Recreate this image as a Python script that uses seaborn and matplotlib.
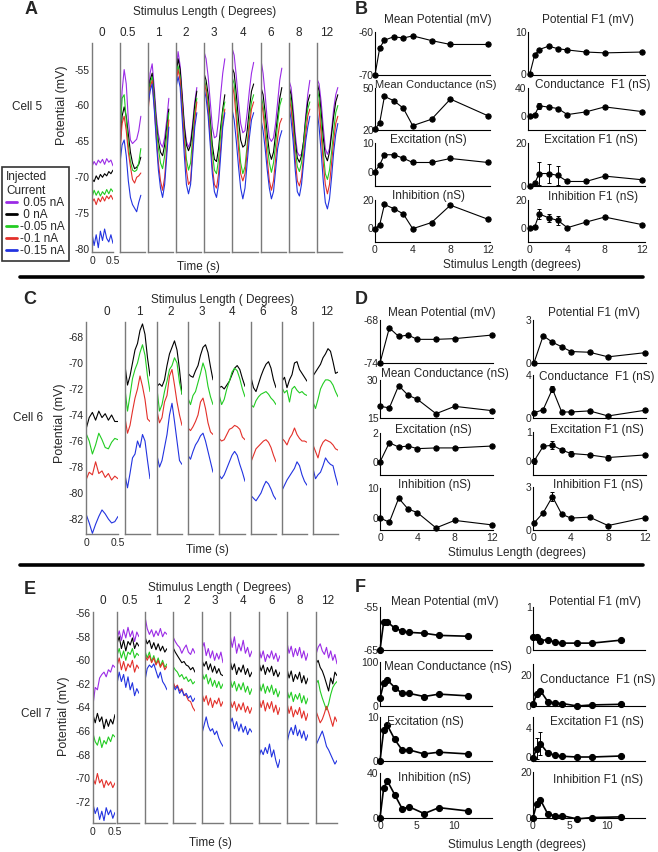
import numpy as np
import seaborn as sns
import matplotlib.pyplot as plt
from matplotlib.lines import Line2D

sns.set_style('white')
plt.rcParams['font.family'] = ['Liberation Sans', 'DejaVu Sans']
plt.rcParams['axes.unicode_minus'] = False

# ---------------- data: membrane potential traces (mV), one list per stimulus length
trace_colors = ['#9b2be6', '#000000', '#22cc22', '#e3302a', '#2233e0']
current_labels = [' 0.05 nA', ' 0 nA', '-0.05 nA', '-0.1 nA', '-0.15 nA']

A_stim = ['0', '0.5', '1', '2', '3', '4', '6', '8', '12']
A_purple = [
    [-68.5, -67.8, -68.3, -67.6, -68.0, -67.5, -68.2, -67.4, -67.9, -67.6, -68.4],
    [-64.7, -58.0, -55.0, -57.0, -62.0, -64.8, -65.3, -65.0, -64.7, -63.5, -61.5],
    [-59.5, -55.5, -54.2, -57.5, -61.5, -64.0, -65.3, -65.8, -64.5, -62.0, -59.0],
    [-55.5, -52.5, -54.5, -58.5, -62.5, -65.0, -65.8, -65.0, -62.5, -59.5, -57.5],
    [-52.5, -53.5, -56.0, -59.5, -63.0, -64.5, -64.3, -62.0, -58.5, -55.5, -53.5],
    [-52.0, -53.0, -56.0, -59.5, -62.5, -63.8, -63.5, -61.0, -58.0, -55.5, -54.0],
    [-53.7, -55.5, -58.5, -62.0, -64.5, -65.0, -64.5, -62.5, -59.5, -56.5, -54.8],
    [-56.5, -57.5, -60.5, -64.0, -66.5, -67.0, -66.8, -65.0, -61.5, -58.5, -56.5],
    [-56.3, -57.0, -59.5, -63.0, -66.0, -66.8, -66.0, -63.5, -60.5, -58.5, -57.5],
]
A_black = [
    [-70.2, -70.6, -69.8, -70.3, -69.6, -70.0, -69.5, -69.8, -69.2, -69.5, -69.0],
    [-66.0, -61.5, -60.2, -61.5, -64.0, -66.5, -68.0, -68.8, -68.6, -68.2, -67.2],
    [-60.0, -56.5, -55.5, -58.5, -62.5, -65.0, -66.5, -67.0, -65.5, -63.0, -60.5],
    [-56.0, -53.5, -55.0, -59.0, -63.0, -65.5, -66.3, -65.5, -63.0, -60.0, -58.0],
    [-55.5, -56.5, -58.5, -62.0, -65.5, -67.5, -67.8, -66.0, -63.0, -60.5, -58.5],
    [-54.7, -55.5, -58.5, -62.0, -64.8, -65.8, -65.5, -63.5, -60.5, -58.0, -57.0],
    [-57.5, -58.5, -61.0, -64.0, -66.5, -67.5, -66.5, -64.0, -61.5, -59.0, -57.5],
    [-57.3, -58.5, -61.5, -65.0, -67.3, -67.9, -67.0, -65.0, -62.0, -59.5, -58.5],
    [-56.8, -58.0, -61.0, -64.5, -67.0, -67.7, -66.5, -64.0, -61.5, -59.5, -58.5],
]
A_green = [
    [-72.8, -71.8, -72.5, -71.9, -72.6, -72.0, -72.4, -71.7, -72.3, -71.6, -72.0],
    [-64.5, -59.0, -58.5, -62.0, -65.5, -67.8, -69.0, -69.2, -69.0, -68.0, -66.0],
    [-60.5, -57.0, -56.0, -59.0, -63.0, -66.0, -68.0, -68.8, -67.0, -64.0, -61.0],
    [-56.5, -54.5, -56.0, -60.0, -64.0, -67.5, -69.0, -68.0, -64.5, -61.0, -59.0],
    [-56.0, -57.5, -59.5, -63.0, -66.5, -69.0, -69.5, -67.5, -64.0, -61.0, -59.5],
    [-56.0, -57.0, -60.5, -64.5, -68.0, -69.5, -68.5, -65.5, -62.0, -59.5, -58.5],
    [-58.5, -60.0, -62.5, -65.5, -68.0, -69.3, -68.0, -65.5, -62.5, -60.0, -59.0],
    [-58.0, -59.5, -62.5, -66.0, -68.5, -69.2, -68.0, -65.5, -62.5, -60.5, -59.5],
    [-57.5, -59.0, -62.5, -66.5, -69.5, -70.3, -69.0, -66.5, -63.5, -61.0, -60.0],
]
A_red = [
    [-73.5, -73.0, -73.8, -72.9, -73.4, -72.7, -73.3, -72.6, -73.0, -72.5, -73.1],
    [-66.5, -62.5, -61.5, -63.5, -66.5, -68.5, -70.3, -70.8, -70.0, -69.8, -69.4],
    [-61.0, -57.5, -56.5, -60.0, -64.5, -68.0, -70.5, -71.8, -70.0, -66.0, -62.0],
    [-57.0, -55.0, -56.5, -60.5, -65.0, -69.0, -71.0, -70.5, -66.0, -62.0, -59.5],
    [-56.5, -58.0, -60.5, -64.5, -68.5, -71.0, -71.5, -69.5, -66.0, -62.5, -60.5],
    [-56.8, -58.5, -62.0, -66.0, -69.5, -70.5, -69.5, -66.5, -63.0, -60.5, -59.5],
    [-59.0, -61.0, -64.0, -67.5, -70.5, -71.8, -70.5, -67.5, -64.5, -62.5, -61.8],
    [-58.5, -60.5, -63.5, -67.5, -70.5, -71.2, -70.0, -67.0, -64.0, -61.5, -60.5],
    [-58.5, -60.5, -64.0, -68.0, -71.0, -72.3, -71.0, -68.0, -65.0, -62.5, -61.5],
]
A_blue = [
    [-77.8, -79.5, -78.0, -79.8, -77.5, -78.8, -77.2, -78.5, -79.0, -78.0, -79.2],
    [-68.0, -65.5, -64.8, -67.0, -70.5, -72.8, -73.8, -74.3, -74.8, -73.5, -72.5],
    [-60.0, -58.0, -57.0, -60.5, -65.0, -69.0, -71.5, -72.8, -71.0, -67.0, -63.0],
    [-57.5, -56.0, -57.5, -62.0, -67.0, -71.0, -72.3, -71.0, -67.0, -63.0, -61.0],
    [-57.5, -59.0, -61.5, -65.5, -69.5, -72.0, -72.8, -71.0, -67.0, -63.0, -61.0],
    [-60.5, -62.0, -65.0, -68.5, -71.5, -73.0, -71.5, -68.0, -64.5, -62.0, -61.0],
    [-62.0, -63.5, -66.0, -69.0, -71.5, -73.0, -72.0, -69.0, -66.0, -64.5, -63.5],
    [-60.0, -62.0, -65.0, -69.0, -72.0, -72.6, -71.0, -68.0, -65.0, -63.0, -61.5],
    [-60.5, -63.0, -66.5, -70.5, -73.5, -74.4, -73.0, -70.0, -66.5, -64.0, -62.5],
]

C_stim = ['0', '1', '2', '3', '4', '6', '8', '12']
C_black = [
    [-75.1, -74.2, -73.8, -74.4, -73.7, -74.2, -73.9, -74.4, -74.0, -74.5, -74.5],
    [-70.2, -71.7, -71.0, -70.0, -69.0, -68.5, -67.5, -67.0, -67.8, -69.6, -71.0],
    [-71.8, -71.6, -71.8, -71.3, -70.2, -69.3, -68.8, -68.3, -69.0, -70.5, -72.4],
    [-70.8, -71.0, -71.1, -70.6, -70.2, -69.4, -68.8, -68.6, -69.2, -70.3, -71.3],
    [-71.9, -71.8, -72.0, -71.7, -71.4, -70.9, -70.4, -70.2, -70.5, -71.2, -71.8],
    [-71.1, -71.9, -72.2, -71.6, -71.0, -70.5, -70.1, -69.9, -70.4, -71.3, -71.9],
    [-71.4, -71.1, -71.9, -71.3, -70.9, -70.0, -69.9, -70.5, -70.8, -71.1, -71.4],
    [-71.0, -70.7, -70.4, -70.1, -69.6, -69.3, -68.9, -69.1, -69.9, -70.8, -70.7],
]
C_green = [
    [-75.4, -76.0, -77.0, -76.3, -75.4, -75.9, -76.5, -76.6, -76.1, -75.8, -75.9],
    [-72.0, -73.7, -72.5, -71.2, -70.5, -70.0, -69.2, -68.6, -69.4, -71.0, -72.2],
    [-72.0, -73.7, -73.2, -72.2, -71.4, -70.5, -70.2, -69.6, -70.0, -71.5, -72.4],
    [-72.7, -73.2, -72.5, -72.2, -71.5, -70.8, -70.0, -70.6, -71.8, -72.6, -73.2],
    [-72.4, -73.2, -72.8, -72.0, -71.4, -70.7, -70.4, -70.6, -71.2, -72.0, -72.6],
    [-73.2, -73.4, -72.9, -72.6, -72.4, -72.3, -72.2, -72.4, -72.7, -72.9, -73.2],
    [-71.9, -72.3, -72.1, -73.0, -72.0, -71.8, -72.1, -72.3, -72.2, -72.4, -72.5],
    [-73.0, -73.5, -72.8, -72.0, -71.6, -71.3, -71.3, -71.4, -71.7, -72.2, -72.6],
]
C_red = [
    [-79.0, -78.4, -78.6, -77.6, -78.5, -78.3, -78.8, -78.5, -79.0, -78.7, -78.9],
    [-74.2, -75.4, -74.8, -73.7, -72.7, -72.0, -71.0, -71.8, -72.8, -74.3, -74.5],
    [-73.7, -74.6, -74.2, -73.0, -72.5, -71.0, -70.5, -71.7, -73.0, -74.0, -74.8],
    [-75.0, -75.2, -74.9, -74.5, -74.0, -73.0, -72.7, -73.5, -74.6, -75.3, -75.5],
    [-75.8, -76.0, -75.9, -75.5, -75.1, -75.0, -74.8, -74.9, -75.1, -75.7, -75.9],
    [-77.6, -77.1, -76.6, -76.4, -76.2, -76.0, -75.9, -76.1, -76.5, -77.1, -77.6],
    [-75.8, -76.0, -76.3, -75.8, -75.5, -75.0, -75.5, -75.8, -76.0, -76.0, -76.1],
    [-76.3, -76.8, -77.3, -76.5, -76.1, -75.9, -76.0, -76.1, -76.3, -76.6, -76.7],
]
C_blue = [
    [-81.6, -82.3, -83.1, -82.4, -81.8, -81.3, -81.6, -82.0, -82.3, -82.2, -81.8],
    [-78.6, -79.6, -78.5, -77.3, -77.0, -76.0, -76.5, -75.5, -76.0, -77.5, -78.9],
    [-77.1, -78.0, -77.5, -76.5, -75.5, -74.0, -73.1, -74.5, -76.0, -77.5, -77.8],
    [-77.1, -77.4, -76.8, -76.3, -76.0, -75.6, -75.4, -76.0, -76.8, -77.6, -78.4],
    [-78.6, -78.9, -78.6, -78.1, -77.6, -77.1, -76.8, -77.1, -77.8, -78.4, -79.1],
    [-80.2, -80.4, -80.6, -80.3, -80.0, -79.5, -79.1, -79.3, -79.7, -80.2, -80.5],
    [-79.8, -79.4, -79.0, -78.7, -78.4, -78.1, -77.6, -77.9, -78.6, -79.1, -79.4],
    [-78.1, -78.9, -78.6, -78.4, -77.9, -77.3, -77.6, -77.8, -77.9, -78.7, -79.4],
]

E_stim = ['0', '0.5', '1', '2', '3', '4', '6', '8', '12']
E_purple = [
    [-63.8, -62.3, -62.5, -61.5, -61.2, -61.0, -61.4, -60.8, -61.0, -60.4, -60.6],
    [-58.2, -57.5, -58.3, -57.4, -58.1, -57.2, -58.0, -57.5, -58.4, -57.6, -58.0],
    [-56.3, -57.3, -57.8, -57.4, -58.0, -57.5, -57.9, -57.3, -58.0, -57.6, -57.8],
    [-58.0, -58.4, -58.7, -58.9, -59.4, -59.0, -58.7, -59.3, -59.5, -59.0, -59.4],
    [-59.0, -58.5, -59.6, -59.0, -59.8, -59.2, -60.0, -59.4, -59.9, -59.3, -60.2],
    [-57.8, -58.9, -58.0, -59.4, -58.6, -59.2, -58.3, -59.4, -58.9, -59.7, -59.2],
    [-59.0, -59.8, -59.2, -60.1, -59.5, -59.8, -59.2, -59.9, -59.4, -60.1, -59.6],
    [-58.5, -59.4, -58.8, -59.7, -59.0, -59.6, -58.9, -59.8, -59.2, -60.0, -59.4],
    [-59.5, -58.9, -58.6, -59.2, -59.5, -58.9, -59.8, -59.2, -60.0, -59.5, -60.3],
]
E_black = [
    [-64.6, -65.3, -64.5, -65.2, -64.8, -65.8, -65.0, -65.6, -65.0, -65.4, -64.6],
    [-58.6, -58.0, -59.0, -58.3, -59.2, -58.4, -58.7, -58.1, -59.0, -58.5, -58.8],
    [-58.0, -58.6, -58.3, -59.0, -58.5, -59.1, -58.6, -59.2, -58.8, -59.3, -59.0],
    [-58.9, -59.3, -59.6, -59.9, -60.2, -60.1, -60.4, -60.5, -60.8, -60.6, -61.0],
    [-60.0, -60.5, -60.1, -60.8, -60.3, -61.0, -60.5, -61.1, -60.7, -61.2, -61.3],
    [-60.0, -60.8, -60.3, -61.2, -60.6, -61.0, -60.4, -61.2, -60.7, -61.4, -61.0],
    [-60.2, -60.9, -60.4, -61.2, -60.6, -61.0, -60.5, -61.3, -60.8, -61.4, -61.0],
    [-60.7, -61.5, -60.9, -61.8, -61.2, -61.6, -61.0, -61.9, -61.3, -62.0, -61.5],
    [-60.3, -60.0, -60.6, -60.9, -61.4, -62.0, -62.6, -61.5, -62.0, -61.0, -61.3],
]
E_green = [
    [-66.2, -66.9, -67.2, -66.5, -67.4, -66.8, -67.1, -66.5, -66.9, -66.3, -66.5],
    [-59.6, -59.0, -59.8, -59.2, -60.0, -59.3, -59.5, -59.0, -59.8, -59.4, -59.6],
    [-59.2, -59.8, -59.3, -60.1, -59.6, -60.3, -59.8, -60.5, -60.0, -60.6, -60.3],
    [-60.5, -60.8, -61.0, -61.4, -61.2, -61.6, -61.4, -61.8, -61.6, -62.0, -61.8],
    [-61.0, -61.6, -61.2, -62.0, -61.5, -62.2, -61.7, -62.3, -61.8, -62.4, -62.0],
    [-61.5, -62.3, -61.8, -62.6, -62.0, -62.5, -61.9, -62.7, -62.2, -62.9, -62.4],
    [-61.8, -62.6, -62.0, -62.8, -62.2, -62.7, -62.1, -62.9, -62.4, -63.1, -62.6],
    [-62.5, -63.2, -62.7, -63.5, -62.9, -63.3, -62.8, -63.6, -63.0, -63.7, -63.2],
    [-62.0, -61.7, -62.6, -63.2, -63.7, -64.2, -63.7, -62.9, -62.3, -62.0, -61.8],
]
E_red = [
    [-70.0, -70.5, -69.6, -70.4, -70.1, -70.8, -70.2, -70.6, -70.3, -70.8, -70.4],
    [-60.5, -59.8, -60.8, -60.1, -60.9, -60.3, -60.6, -60.0, -61.0, -60.4, -60.7],
    [-59.5, -60.0, -59.6, -60.2, -59.8, -60.4, -60.0, -60.6, -60.2, -60.8, -60.5],
    [-61.8, -62.3, -62.1, -62.6, -62.4, -62.9, -63.0, -63.4, -63.5, -64.0, -64.3],
    [-62.8, -63.5, -63.0, -63.8, -63.2, -64.0, -63.4, -63.7, -63.2, -63.9, -63.5],
    [-63.3, -64.0, -63.5, -64.3, -63.7, -64.2, -63.6, -64.4, -63.9, -64.5, -64.0],
    [-63.2, -64.0, -63.4, -64.3, -63.6, -64.1, -63.5, -64.4, -63.8, -64.6, -64.0],
    [-63.6, -64.5, -63.9, -64.8, -64.2, -64.6, -64.0, -64.9, -64.3, -65.1, -64.5],
    [-64.3, -64.8, -65.3, -65.0, -64.5, -63.9, -64.4, -65.0, -65.6, -64.8, -65.2],
]
E_blue = [
    [-72.2, -73.0, -72.5, -73.5, -72.8, -73.6, -72.5, -73.1, -72.7, -73.4, -72.9],
    [-62.0, -61.0, -61.8, -61.2, -62.3, -61.4, -62.5, -61.9, -63.0, -62.4, -62.8],
    [-61.7, -60.7, -60.4, -60.6, -60.3, -60.9, -61.5, -61.0, -61.8, -62.1, -62.5],
    [-62.0, -62.5, -62.2, -62.8, -62.5, -63.0, -62.8, -63.2, -63.0, -63.5, -63.2],
    [-66.2, -65.5, -64.8, -65.6, -66.0, -65.8, -66.3, -66.0, -66.6, -67.0, -67.3],
    [-65.4, -64.9, -65.8, -65.2, -66.0, -65.4, -66.1, -65.6, -66.3, -65.8, -66.1],
    [-68.2, -67.6, -68.0, -67.4, -67.9, -67.1, -68.2, -67.6, -68.5, -69.1, -68.4],
    [-67.0, -66.2, -65.7, -66.3, -65.5, -66.4, -65.9, -66.6, -66.0, -66.8, -66.3],
    [-67.2, -66.8, -66.4, -66.0, -66.6, -67.3, -67.6, -68.0, -68.4, -68.8, -68.5],
]

# ---------------- data: summary measures vs stimulus length (degrees)
B_x = [0, 0.5, 1, 2, 3, 4, 6, 8, 12]
B_mean_pot = [-70, -63.7, -61.9, -61.1, -61.4, -60.9, -62.0, -62.9, -62.9]
B_mean_cond = [20.5, 25.3, 44.0, 40.9, 35.6, 23.1, 27.7, 42.1, 30.1]
B_exc = [0, 2.4, 5.9, 5.9, 4.7, 3.2, 3.2, 4.6, 3.2]
B_inh = [-0.5, 2.3, 16.8, 13.8, 10.1, -0.5, 3.9, 16.3, 6.2]
B_pot_f1 = [0, 4.4, 5.8, 6.6, 6.0, 5.7, 5.2, 5.0, 5.2]
B_cond_f1 = [0, 1.2, 14.6, 12.7, 10.7, 2.0, 5.9, 13.0, 6.3]
B_cond_f1_err = [0, 0, 4.0, 0, 0, 0, 0, 0, 0]
B_exc_f1 = [0, 1.2, 5.8, 5.8, 4.9, 2.1, 2.1, 4.6, 2.9]
B_exc_f1_err = [0, 0, 5.4, 4.2, 4.3, 0, 0, 0, 0]
B_inh_f1 = [0, 0.5, 10.0, 7.3, 5.4, 0.2, 4.2, 7.8, 2.4]
B_inh_f1_err = [0, 0, 3.5, 3.0, 3.5, 0, 0, 0, 0]

D_x = [0, 1, 2, 3, 4, 6, 8, 12]
D_mean_pot = [-74, -69.1, -70.3, -70.1, -70.7, -70.7, -70.6, -70.1]
D_mean_cond = [19.6, 19.0, 27.8, 24.0, 22.4, 16.7, 19.6, 17.9]
D_exc = [0, 1.33, 1.03, 1.1, 0.92, 0.97, 0.97, 1.1]
D_inh = [0, -1.4, 6.6, 3.0, 1.8, -3.3, -0.8, -2.3]
D_pot_f1 = [0, 1.9, 1.45, 1.13, 0.8, 0.75, 0.43, 0.72]
D_cond_f1 = [0.47, 0.78, 2.7, 0.56, 0.56, 0.66, 0.19, 0.72]
D_cond_f1_err = [0, 0, 0.3, 0, 0, 0, 0, 0]
D_exc_f1 = [-0.02, 0.5, 0.54, 0.37, 0.25, 0.2, 0.11, 0.2]
D_exc_f1_err = [0.1, 0, 0.15, 0.06, 0.08, 0, 0.1, 0]
D_inh_f1 = [0.48, 1.2, 2.33, 1.1, 0.83, 0.9, 0.31, 0.86]
D_inh_f1_err = [0, 0, 0.3, 0, 0, 0, 0, 0]

F_x = [0, 0.5, 1, 2, 3, 4, 6, 8, 12]
F_mean_pot = [-65, -58.5, -58.5, -59.9, -60.6, -60.9, -61.1, -61.6, -61.8]
F_mean_cond = [17.7, 51.5, 59.0, 42.0, 28.5, 28.5, 21.5, 27.0, 23.0]
F_exc = [0, 7.0, 8.1, 4.9, 2.5, 2.5, 1.6, 2.0, 1.6]
F_inh = [0, 26.7, 32.9, 20.7, 8.3, 9.8, 3.9, 9.2, 6.2]
F_pot_f1 = [0.3, 0.31, 0.22, 0.24, 0.18, 0.16, 0.16, 0.16, 0.23]
F_cond_f1 = [1.1, 7.8, 10.0, 2.9, 1.8, 1.6, 0.0, 0.7, 1.1]
F_exc_f1 = [-0.1, 1.15, 1.84, 0.55, 0.23, 0.1, 0.0, 0.0, 0.14]
F_exc_f1_err = [0, 1.4, 1.6, 0, 0, 0, 0, 0, 0]
F_inh_f1 = [0, 5.9, 7.8, 1.6, 0.8, 0.8, -0.6, 0.0, 0.3]

# ---------------- figure helpers (pixel layout of a 658 x 852 canvas)
W, H = 658, 852
fig = plt.figure(figsize=(W / 100, H / 100), dpi=100)
GRAY = '#7a7a7a'


def box(l, t, r, b):
    return [l / W, 1 - b / H, (r - l) / W, (b - t) / H]


def ftext(x, y, s, **kw):
    kw.setdefault('ha', 'center')
    kw.setdefault('va', 'center')
    kw.setdefault('fontsize', 8.5)
    fig.text(x / W, 1 - y / H, s, **kw)


def trace_panel(cols, top, bottom, xlims, ylim, yticks, series, colors, stim, label_x, label_y):
    handles = []
    for i, (l, r) in enumerate(cols):
        ax = fig.add_axes(box(l, top, r, bottom))
        for vals, c in zip(series, colors):
            y = np.array(vals[i])
            t = np.linspace(0, 0.5, len(y))
            sns.lineplot(x=t, y=y, color=c, lw=0.8, ax=ax, sort=False, estimator=None)
            if i == 0:
                handles.append(ax.lines[-1])
        ax.set_xlim(xlims[i])
        ax.set_ylim(ylim)
        ax.set_xlabel('')
        ax.set_ylabel('')
        for s in ['top', 'right']:
            ax.spines[s].set_visible(False)
        for s in ['left', 'bottom']:
            ax.spines[s].set_color(GRAY)
            ax.spines[s].set_linewidth(1.0)
        ax.set_yticks(yticks)
        ax.tick_params(axis='y', direction='in', length=3, color=GRAY, labelsize=7.5, pad=1.5)
        if i == 0:
            ax.set_yticklabels([f'{v:g}' for v in yticks])
            ax.set_xticks([0, 0.5])
            ax.set_xticklabels(['0', '0.5'])
            ax.tick_params(axis='x', length=0, labelsize=7.5, pad=3)
        else:
            ax.set_yticklabels([])
            ax.set_xticks([])
        ftext(label_x[i], label_y, stim[i])
    return handles


def summary(l, t, r, b, x, y, xlim, ylim, yticks, ylabels, err=None, xticks=None, ms=3.8, lw=0.8):
    ax = fig.add_axes(box(l, t, r, b))
    sns.lineplot(x=x, y=y, ax=ax, color='k', lw=lw, marker='o', ms=ms, mec='k', mfc='k',
                 sort=False, estimator=None, clip_on=False)
    if err is not None:
        idx = [k for k, e in enumerate(err) if e > 0]
        ax.errorbar([x[k] for k in idx], [y[k] for k in idx], yerr=[err[k] for k in idx],
                    fmt='none', ecolor='k', elinewidth=0.7, capsize=1.5, capthick=0.7)
    ax.set_xlim(xlim)
    ax.set_ylim(ylim)
    ax.set_xlabel('')
    ax.set_ylabel('')
    for s in ['top', 'right']:
        ax.spines[s].set_visible(False)
    for s in ['left', 'bottom']:
        ax.spines[s].set_color('k')
        ax.spines[s].set_linewidth(0.8)
    ax.set_yticks(yticks)
    ax.set_yticklabels([f'{v:g}' if v in ylabels else '' for v in yticks])
    ax.tick_params(axis='y', direction='in', length=2.5, labelsize=7.5, pad=1)
    if xticks is not None:
        ax.set_xticks(xticks)
        ax.set_xticklabels([f'{v:g}' for v in xticks])
        ax.tick_params(axis='x', direction='in', length=2.5, labelsize=7.5, pad=2)
    else:
        ax.set_xticks([])
    return ax


# ================= Panel A (cell 5 traces)
A_cols = [(92, 113), (120, 145), (148, 173), (176, 201), (204, 229),
          (232, 258), (261, 286), (289, 314), (317, 342)]
A_xl = [(0, 0.5)] + [(0, 0.6)] * 8
A_lx = [102, 128, 158, 186, 214, 243, 271, 299, 327]
handles = trace_panel(A_cols, 43, 252, A_xl, (-80.4, -51.3), [-80, -75, -70, -65, -60, -55],
                      [A_purple, A_black, A_green, A_red, A_blue], trace_colors, A_stim, A_lx, 33)
ftext(205, 12, 'Stimulus Length ( Degrees)')
ftext(62, 105, 'Potential (mV)', rotation=90, fontsize=9)
ftext(27, 107, 'Cell 5')
ftext(198, 267, 'Time (s)')
ftext(31, 10, 'A', fontsize=13, fontweight='bold')
leg = fig.legend(handles, current_labels, title='Injected\nCurrent', loc='upper left',
                 bbox_to_anchor=(2 / W, 1 - 167 / H), frameon=True, fancybox=False,
                 edgecolor='k', fontsize=8.5, title_fontsize=8.5, handlelength=0.9,
                 handletextpad=0.3, labelspacing=0.0, borderpad=0.35, alignment='left',
                 borderaxespad=0)
leg.get_frame().set_linewidth(1.2)
for ln in leg.get_lines():
    ln.set_linewidth(2.0)

# ================= Panel B (cell 5 summary)
BL, BR = (375, 490), (528, 645)
B_rows = [(32, 75), (88, 130), (143, 186), (200, 242)]
xl_b = (0, 12.2)
xl_br = (-0.2, 12.3)
summary(BL[0], B_rows[0][0], BL[1], B_rows[0][1], B_x, B_mean_pot, xl_b, (-70, -60), [-70, -60], [-70, -60])
summary(BL[0], B_rows[1][0], BL[1], B_rows[1][1], B_x, B_mean_cond, xl_b, (20, 50), [20, 50], [20, 50])
summary(BL[0], B_rows[2][0], BL[1], B_rows[2][1], B_x, B_exc, xl_b, (-5, 10), [0, 10], [0, 10])
summary(BL[0], B_rows[3][0], BL[1], B_rows[3][1], B_x, B_inh, xl_b, (-10, 20), [0, 20], [0, 20],
        xticks=[0, 4, 8, 12])
summary(BR[0], B_rows[0][0], BR[1], B_rows[0][1], B_x, B_pot_f1, xl_br, (-0.3, 10), [0, 10], [0, 10])
summary(BR[0], B_rows[1][0], BR[1], B_rows[1][1], B_x, B_cond_f1, xl_br, (-20, 40), [0, 20, 40], [0, 40],
        err=B_cond_f1_err)
summary(BR[0], B_rows[2][0], BR[1], B_rows[2][1], B_x, B_exc_f1, xl_br, (0, 20), [0, 10, 20], [0, 20],
        err=B_exc_f1_err)
summary(BR[0], B_rows[3][0], BR[1], B_rows[3][1], B_x, B_inh_f1, xl_br, (-10, 20), [0, 10, 20], [0, 20],
        err=B_inh_f1_err, xticks=[0, 4, 8, 12])
for (txt, x, y, fs) in [('Mean Potential (mV)', 438, 20, 8.5), ('Mean Conductance (nS)', 436, 85, 8),
                        ('Excitation (nS)', 428, 140, 8.5), ('Inhibition (nS)', 428, 196, 8.5),
                        ('Potential F1 (mV)', 588, 20, 8.5), ('Conductance  F1 (nS)', 593, 85, 8.5),
                        ('Excitation F1 (nS)', 591, 140, 8.5), ('Inhibition F1 (nS)', 593, 197, 8.5)]:
    ftext(x, y, txt, fontsize=fs)
ftext(512, 265, 'Stimulus Length (degrees)')
ftext(361, 10, 'B', fontsize=13, fontweight='bold')

# separators
for yy in [277, 565]:
    fig.add_artist(Line2D([20 / W, 643 / W], [1 - yy / H, 1 - yy / H], color='k', lw=2.6))

# ================= Panel C (cell 6 traces)
C_cols = [(86, 118), (125, 150), (157, 182), (188, 213), (219, 245),
          (251, 276), (282, 307), (313, 338)]
C_xl = [(0, 0.5)] * 8
C_lx = [107, 139, 171, 202, 232, 263, 294, 327]
trace_panel(C_cols, 322, 534, C_xl, (-83.15, -66.85), [-82, -80, -78, -76, -74, -72, -70, -68],
            [C_black, C_green, C_red, C_blue], trace_colors[1:], C_stim, C_lx, 312)
ftext(223, 300, 'Stimulus Length ( Degrees)')
ftext(60, 423, 'Potential (mV)', rotation=90, fontsize=9)
ftext(28, 418, 'Cell 6')
ftext(207, 550, 'Time (s)')
ftext(30, 300, 'C', fontsize=13, fontweight='bold')

# ================= Panel D (cell 6 summary)
DL, DR = (380, 493), (533, 646)
D_rows = [(320, 363), (380, 418), (433, 475), (488, 530)]
D_rows_r = [(320, 363), (375, 418), (432, 475), (487, 530)]
xl_d = (0, 12.1)
xl_dr = (-0.1, 12.1)
summary(DL[0], D_rows[0][0], DL[1], D_rows[0][1], D_x, D_mean_pot, xl_d, (-74, -68), [-74, -68], [-74, -68])
summary(DL[0], D_rows[1][0], DL[1], D_rows[1][1], D_x, D_mean_cond, xl_d, (15, 30), [15, 30], [15, 30])
summary(DL[0], D_rows[2][0], DL[1], D_rows[2][1], D_x, D_exc, xl_d, (-0.9, 2), [0, 1, 2], [0, 2])
summary(DL[0], D_rows[3][0], DL[1], D_rows[3][1], D_x, D_inh, xl_d, (-4, 10), [0, 5, 10], [0, 10],
        xticks=[0, 4, 8, 12])
summary(DR[0], D_rows_r[0][0], DR[1], D_rows_r[0][1], D_x, D_pot_f1, xl_dr, (0, 3), [0, 3], [0, 3])
summary(DR[0], D_rows_r[1][0], DR[1], D_rows_r[1][1], D_x, D_cond_f1, xl_dr, (0, 4), [0, 2, 4], [0, 4],
        err=D_cond_f1_err)
summary(DR[0], D_rows_r[2][0], DR[1], D_rows_r[2][1], D_x, D_exc_f1, xl_dr, (-0.5, 1), [0, 1], [0, 1],
        err=D_exc_f1_err)
summary(DR[0], D_rows_r[3][0], DR[1], D_rows_r[3][1], D_x, D_inh_f1, xl_dr, (0, 3), [0, 3], [0, 3],
        err=D_inh_f1_err, xticks=[0, 4, 8, 12])
for (txt, x, y) in [('Mean Potential (mV)', 442, 313), ('Mean Conductance (nS)', 445, 374),
                    ('Excitation (nS)', 433, 430), ('Inhibition (nS)', 435, 485),
                    ('Potential F1 (mV)', 594, 313), ('Conductance  F1 (nS)', 597, 377),
                    ('Excitation F1 (nS)', 597, 430), ('Inhibition F1 (nS)', 598, 485)]:
    ftext(x, y, txt)
ftext(517, 553, 'Stimulus Length (degrees)')
ftext(361, 300, 'D', fontsize=13, fontweight='bold')

# ================= Panel E (cell 7 traces)
E_cols = [(93, 115), (117, 139), (145, 167), (173, 195), (202, 223),
          (230, 252), (259, 280), (287, 308), (316, 337)]
E_xl = [(0, 0.5)] * 9
E_lx = [103, 130, 158, 187, 215, 243, 272, 300, 328]
trace_panel(E_cols, 612, 823, E_xl, (-73.8, -55.9), [-72, -70, -68, -66, -64, -62, -60, -58, -56],
            [E_purple, E_black, E_green, E_red, E_blue], trace_colors, E_stim, E_lx, 601)
ftext(220, 588, 'Stimulus Length ( Degrees)')
ftext(64, 716, 'Potential (mV)', rotation=90, fontsize=9)
ftext(36, 714, 'Cell 7')
ftext(210, 843, 'Time (s)')
ftext(30, 590, 'E', fontsize=13, fontweight='bold')

# ================= Panel F (cell 7 summary)
FL, FR = (380, 492), (533, 645)
F_rows = [(607, 650), (662, 706), (717, 761), (773, 818)]
F_rows_r = [(607, 650), (664, 706), (717, 761), (772, 818)]
xl_f = (0, 15.2)
kw_f = dict(ms=4.4, lw=1.2)
summary(FL[0], F_rows[0][0], FL[1], F_rows[0][1], F_x, F_mean_pot, xl_f, (-65, -55), [-65, -55], [-65, -55], **kw_f)
summary(FL[0], F_rows[1][0], FL[1], F_rows[1][1], F_x, F_mean_cond, xl_f, (0, 100), [0, 100], [0, 100], **kw_f)
summary(FL[0], F_rows[2][0], FL[1], F_rows[2][1], F_x, F_exc, xl_f, (0, 10), [0, 10], [0, 10], **kw_f)
summary(FL[0], F_rows[3][0], FL[1], F_rows[3][1], F_x, F_inh, xl_f, (0, 40), [0, 40], [0, 40],
        xticks=[0, 5, 10], **kw_f)
summary(FR[0], F_rows_r[0][0], FR[1], F_rows_r[0][1], F_x, F_pot_f1, xl_f, (0, 1), [0, 1], [0, 1], **kw_f)
summary(FR[0], F_rows_r[1][0], FR[1], F_rows_r[1][1], F_x, F_cond_f1, xl_f, (0, 27.3), [0, 20], [0, 20], **kw_f)
summary(FR[0], F_rows_r[2][0], FR[1], F_rows_r[2][1], F_x, F_exc_f1, xl_f, (-0.55, 5.5), [0, 4], [0, 4],
        err=F_exc_f1_err, **kw_f)
summary(FR[0], F_rows_r[3][0], FR[1], F_rows_r[3][1], F_x, F_inh_f1, xl_f, (-0.2, 20), [0, 20], [0, 20],
        xticks=[0, 5, 10], **kw_f)
for (txt, x, y) in [('Mean Potential (mV)', 445, 602), ('Mean Conductance (nS)', 448, 667),
                    ('Excitation (nS)', 425, 722), ('Inhibition (nS)', 435, 778),
                    ('Potential F1 (mV)', 595, 602), ('Conductance  F1 (nS)', 598, 680),
                    ('Excitation F1 (nS)', 597, 722), ('Inhibition F1 (nS)', 598, 780)]:
    ftext(x, y, txt)
ftext(517, 845, 'Stimulus Length (degrees)')
ftext(360, 588, 'F', fontsize=13, fontweight='bold')

fig.savefig('out.png', dpi=100)
